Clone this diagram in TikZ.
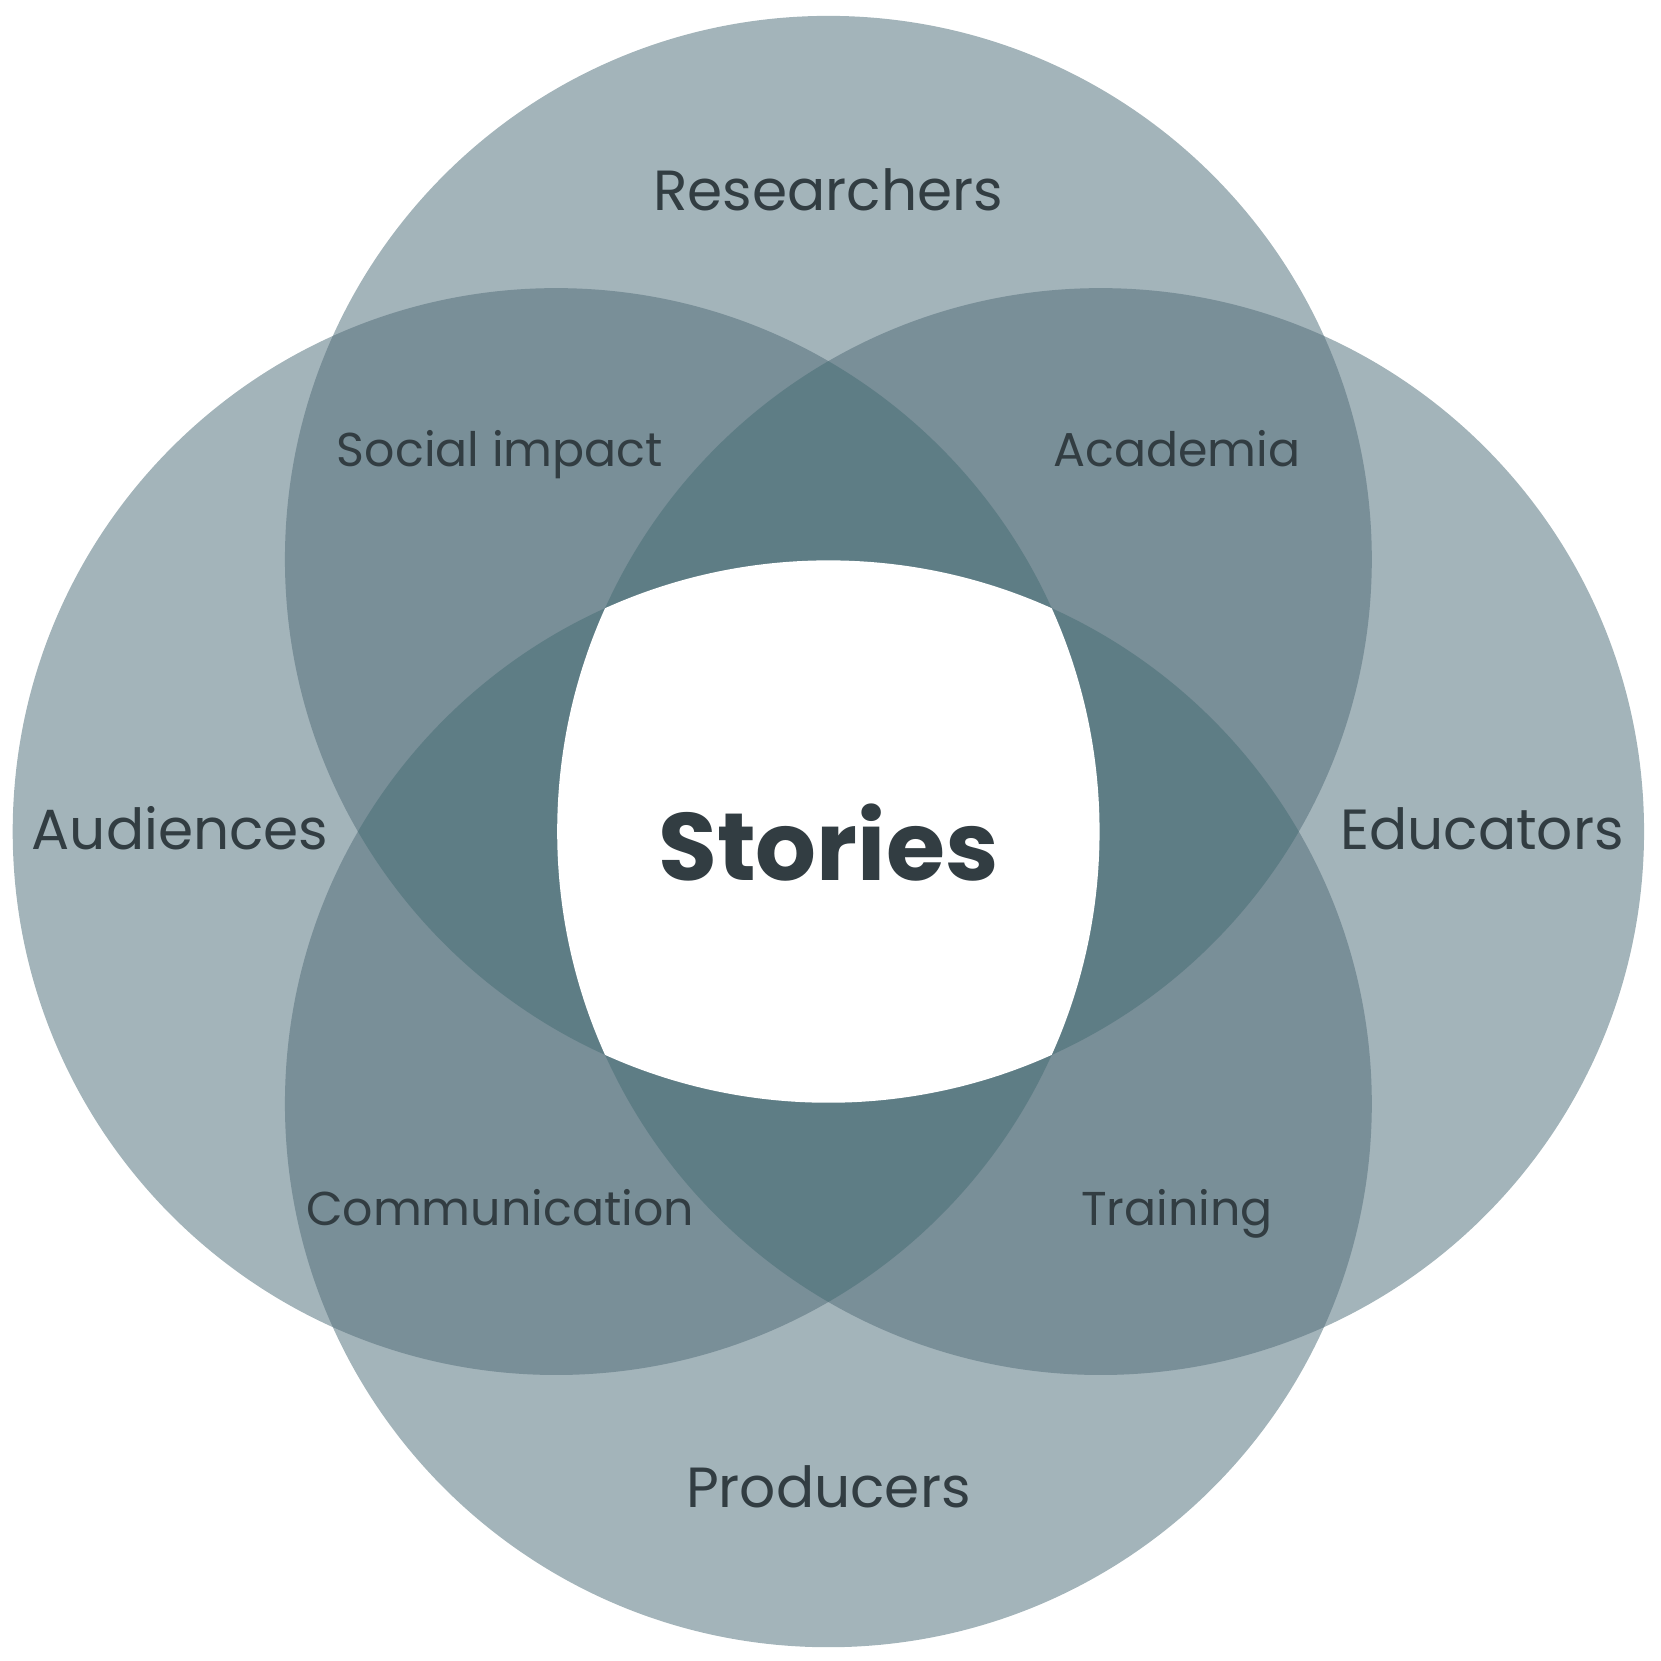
\documentclass[tikz,border=0pt]{standalone}
\usepackage{fontspec}
\setmainfont{Poppins}
\usepackage{xcolor}
\usetikzlibrary{positioning}
\definecolor{setone}{HTML}{A3B4BA}
\definecolor{settwo}{HTML}{798F98}
\definecolor{setthree}{HTML}{5E7D85}
\definecolor{labelink}{HTML}{323D42}
\newcommand{\ringr}{5.13}

\begin{document}
\begin{tikzpicture}[
  outer/.style={anchor=base, text=labelink, font=\fontsize{15.2}{18}\selectfont},
  inner/.style={anchor=base, text=labelink, font=\fontsize{12.75}{15}\selectfont},
  core/.style={anchor=base, text=labelink, font=\fontsize{25.7}{29}\selectfont\bfseries}]
  \useasboundingbox (-7.82,-7.83) rectangle (7.86,7.85);
  \coordinate (T) at (0,2.57);
  \coordinate (B) at (0,-2.57);
  \coordinate (L) at (-2.57,0);
  \coordinate (R) at (2.57,0);
  \foreach \c in {T,B,L,R}
    \fill[setone] (\c) circle (\ringr);
  \foreach \a/\b in {T/L,T/R,B/L,B/R,T/B,L/R}
    {\begin{scope}
      \clip (\a) circle (\ringr);
      \fill[settwo] (\b) circle (\ringr);
    \end{scope}}
  \foreach \a/\b/\c in {T/L/R,T/L/B,T/R/B,L/R/B}
    {\begin{scope}
      \clip (\a) circle (\ringr);
      \clip (\b) circle (\ringr);
      \fill[setthree] (\c) circle (\ringr);
    \end{scope}}
  \begin{scope}
    \clip (T) circle (\ringr);
    \clip (B) circle (\ringr);
    \clip (L) circle (\ringr);
    \fill[white] (R) circle (\ringr);
  \end{scope}
  \node[outer] (researchers) at (0,5.86) {Researchers};
  \node[outer] (audiences) at (-6.12,-0.17) {Audiences};
  \node[outer] (educators) at (6.17,-0.17) {Educators};
  \node[outer] (producers) at (0,-6.38) {Producers};
  \node[inner] (social) at (-3.10,3.45) {Social impact};
  \node[inner] (academia) at (3.29,3.45) {Academia};
  \node[inner] (communication) at (-3.10,-3.715) {Communication};
  \node[inner] (training) at (3.29,-3.715) {Training};
  \node[core] (stories) at (0,-0.464) {Stories};
\end{tikzpicture}
\end{document}
